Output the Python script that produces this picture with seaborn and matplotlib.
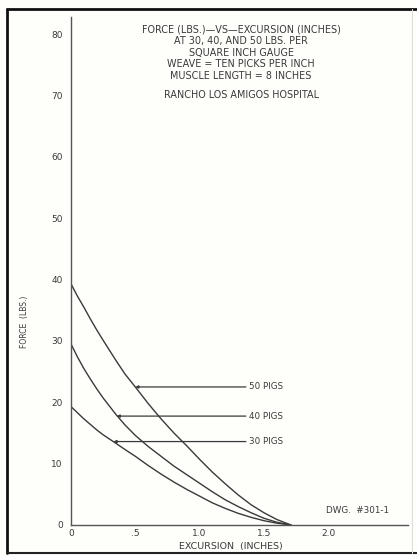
import numpy as np
import pandas as pd
import matplotlib
matplotlib.use("Agg")
import matplotlib.pyplot as plt
from matplotlib.lines import Line2D
import seaborn as sns

# excursion (inches) sample points
excursion = [0, 0.05, 0.1, 0.15, 0.2, 0.25, 0.35, 0.42, 0.5, 0.6, 0.7,
             0.8, 0.9, 1.0, 1.1, 1.2, 1.3, 1.4, 1.5, 1.6, 1.71]

# force (lbs.) for each pressure
force_50 = [39.3, 37.3, 35.5, 33.6, 31.8, 30.1, 26.8, 24.6, 22.5, 19.8, 17.3,
            15.0, 12.9, 10.7, 8.6, 6.7, 4.9, 3.3, 2.0, 0.9, 0.0]
force_40 = [29.5, 27.4, 25.5, 23.8, 22.2, 20.7, 18.0, 16.3, 14.6, 12.8, 11.2,
            9.6, 8.2, 6.8, 5.4, 4.1, 3.0, 2.0, 1.1, 0.45, 0.0]
force_30 = [19.3, 18.3, 17.3, 16.4, 15.5, 14.7, 13.3, 12.3, 11.2, 9.7, 8.3,
            7.0, 5.8, 4.7, 3.6, 2.7, 1.9, 1.25, 0.7, 0.3, 0.0]

# curve labels: text, leader height, where the leader meets the curve
pig_labels = ["50 PIGS", "40 PIGS", "30 PIGS"]
label_y = [22.5, 17.75, 13.6]
label_x = [0.5, 0.355, 0.33]

x_ticks = [0, 0.5, 1.0, 1.5, 2.0]
x_ticklabels = ["0", ".5", "1.0", "1.5", "2.0"]
y_ticks = [0, 10, 20, 30, 40, 50, 60, 70, 80]

title_lines = [
    "FORCE (LBS.)\u2014VS\u2014EXCURSION (INCHES)",
    "AT 30, 40, AND 50 LBS. PER",
    "SQUARE INCH GAUGE",
    "WEAVE = TEN PICKS PER INCH",
    "MUSCLE LENGTH = 8 INCHES",
]

ink = "#3a3a3a"

sns.set_style("white")
plt.rcParams["font.family"] = ["DejaVu Sans"]

df = pd.concat([
    pd.DataFrame({"x": excursion, "y": force_50, "psi": "50"}),
    pd.DataFrame({"x": excursion, "y": force_40, "psi": "40"}),
    pd.DataFrame({"x": excursion, "y": force_30, "psi": "30"}),
])

fig = plt.figure(figsize=(4.17, 5.55), dpi=100)
fig.patch.set_facecolor("#fefefb")
ax = fig.add_axes([71 / 417, 1 - 525 / 555, 337 / 417, 508 / 555])
ax.set_facecolor("#fefefb")

sns.lineplot(data=df, x="x", y="y", units="psi", estimator=None,
             color=ink, linewidth=1.0, ax=ax, legend=False)

ax.set_xlim(0, 2.62)
ax.set_ylim(0, 82.8)

for txt, yy, xx in zip(pig_labels, label_y, label_x):
    ax.annotate(txt, xy=(xx, yy), xytext=(1.385, yy), textcoords="data",
                va="center", ha="left", fontsize=6.3, color=ink,
                arrowprops=dict(arrowstyle="-|>", lw=0.9, color=ink,
                                mutation_scale=4, shrinkA=0, shrinkB=0))

ax.text(2.23, 2.4, "DWG.  #301-1", fontsize=6.3, color=ink, ha="center", va="center")

ax.set_xticks(x_ticks)
ax.set_xticklabels(x_ticklabels)
ax.set_yticks(y_ticks)
ax.tick_params(axis="both", length=0, labelsize=6.5, colors=ink)
ax.tick_params(axis="x", pad=3)
ax.tick_params(axis="y", pad=6)

ax.set_xlabel("EXCURSION  (INCHES)", fontsize=6.8, color=ink)
ax.xaxis.set_label_coords((231 - 71) / 337, -0.033)
ax.set_ylabel("FORCE  (LBS.)", fontsize=5.5, color=ink)
ax.yaxis.set_label_coords(-0.125, 0.40)

sns.despine(ax=ax)
for side in ["left", "bottom"]:
    ax.spines[side].set_color("#555555")
    ax.spines[side].set_linewidth(1.0)

# heading block
for i, line in enumerate(title_lines):
    fig.text(0.578, 1 - (29 + i * 11.8) / 555, line, fontsize=6.9,
             color=ink, ha="center", va="center")
fig.text(0.58, 1 - 95 / 555, "RANCHO LOS AMIGOS HOSPITAL", fontsize=6.9,
         color=ink, ha="center", va="center")

# page frame from the scan
fig.add_artist(Line2D([6.5 / 417, 6.5 / 417], [1 - 9 / 555, 1 - 553 / 555],
                      transform=fig.transFigure, color="#111111", lw=2))
fig.add_artist(Line2D([6.5 / 417, 1.0], [1 - 9 / 555, 1 - 9 / 555],
                      transform=fig.transFigure, color="#111111", lw=2))
fig.add_artist(Line2D([6.5 / 417, 1.0], [1 - 553 / 555, 1 - 553 / 555],
                      transform=fig.transFigure, color="#222222", lw=1.5))
fig.add_artist(Line2D([412 / 417, 412 / 417], [1 - 9 / 555, 1 - 553 / 555],
                      transform=fig.transFigure, color="#dddddd", lw=0.8))

fig.savefig("out.png", dpi=100, facecolor=fig.get_facecolor())
